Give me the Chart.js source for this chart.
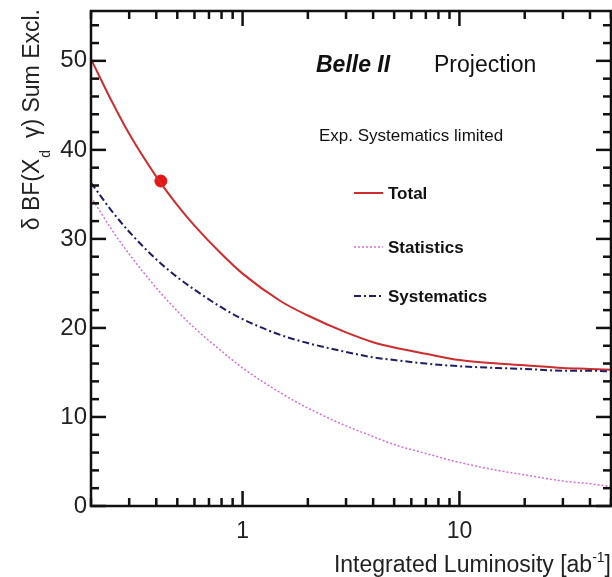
<!DOCTYPE html>
<html>
<head>
<meta charset="utf-8">
<script src="https://cdn.jsdelivr.net/npm/chart.js@4/dist/chart.umd.min.js"></script>
<style>
html, body { margin: 0; padding: 0; background: #fff; }
#wrap { width: 612px; height: 577px; }
</style>
</head>
<body>
<div id="wrap"><canvas id="myChart" width="612" height="577"></canvas></div>
<script>
// integrated luminosity [ab^-1] and the three error curves
var lumi        = [0.2, 0.25, 0.3, 0.4, 0.5, 0.6, 0.8, 1, 1.5, 2, 3, 4, 5, 7, 10, 15, 20, 30, 40, 50];
var total       = [50.2, 45.4, 41.8, 37.0, 33.8, 31.5, 28.3, 26.1, 23.0, 21.4, 19.5, 18.4, 17.8, 17.1, 16.4, 16.0, 15.8, 15.5, 15.4, 15.3];
var statistics  = [34.7, 31.0, 28.3, 24.5, 21.9, 20.0, 17.4, 15.5, 12.7, 11.0, 9.0, 7.8, 6.9, 5.9, 4.9, 4.0, 3.5, 2.8, 2.5, 2.2];
var systematics = [36.3, 33.1, 30.8, 27.7, 25.7, 24.3, 22.3, 21.0, 19.2, 18.3, 17.3, 16.7, 16.4, 16.0, 15.7, 15.5, 15.4, 15.2, 15.2, 15.1];

// marked point on the total curve
var markLumi  = [0.42];
var markTotal = [36.5];

// axis ticks
var xTicks  = [0.2, 0.3, 0.4, 0.5, 0.6, 0.7, 0.8, 0.9, 1, 2, 3, 4, 5, 6, 7, 8, 9, 10, 20, 30, 40, 50];
var xLabels = [1, 10];
var yTicks  = [0, 10, 20, 30, 40, 50];

var FONT = '"Liberation Sans", Arial, sans-serif';

function pairs(xs, ys) {
    var out = [];
    for (var i = 0; i < xs.length; i++) {
        out.push({x: xs[i], y: ys[i]});
    }
    return out;
}

var styles = {
    total: {color: 'rgb(205,45,45)', width: 2, dash: []},
    stat:  {color: 'rgb(214,110,214)', width: 1.5, dash: [2, 2]},
    syst:  {color: 'rgb(30,30,100)', width: 2, dash: [7, 3, 2, 3]}
};

function line(ctx, x1, y1, x2, y2) {
    ctx.beginPath();
    ctx.moveTo(x1, y1);
    ctx.lineTo(x2, y2);
    ctx.stroke();
}

// chart.js reserves room for half a label at the axis ends; not wanted here
function noScalePadding(s) {
    s.paddingTop = 0;
    s.paddingBottom = 0;
    s.paddingLeft = 0;
    s.paddingRight = 0;
}

var framePlugin = {
    id: 'frame',
    afterDraw: function(chart) {
        var ctx = chart.ctx, a = chart.chartArea;
        var xs = chart.scales.x, ys = chart.scales.y;
        ctx.save();
        ctx.strokeStyle = '#111';
        ctx.lineWidth = 2.5;
        ctx.setLineDash([]);
        ctx.strokeRect(a.left, a.top, a.right - a.left, a.bottom - a.top);

        // inward ticks, ROOT style
        xTicks.forEach(function(v) {
            var px = xs.getPixelForValue(v);
            var len = xLabels.indexOf(v) >= 0 ? 15 : 8;
            line(ctx, px, a.bottom, px, a.bottom - len);
            line(ctx, px, a.top, px, a.top + len);
        });
        for (var v = 0; v <= 55; v += 2) {
            var py = ys.getPixelForValue(v);
            var len = (v % 10 === 0) ? 15 : 8;
            line(ctx, a.left, py, a.left + len, py);
            line(ctx, a.right, py, a.right - len, py);
        }

        // y title with subscript
        ctx.fillStyle = '#222';
        ctx.textBaseline = 'alphabetic';
        ctx.textAlign = 'left';
        var p1 = '\u03B4 BF(X', p2 = 'd', p3 = '  \u03B3) Sum Excl.';
        ctx.font = '23px ' + FONT;
        var w1 = ctx.measureText(p1).width, w3 = ctx.measureText(p3).width;
        ctx.font = '14px ' + FONT;
        var w2 = ctx.measureText(p2).width;
        var wt = w1 + w2 + w3;
        ctx.save();
        ctx.translate(39, 9 + wt);
        ctx.rotate(-Math.PI / 2);
        ctx.font = '23px ' + FONT;
        ctx.fillText(p1, 0, 0);
        ctx.font = '14px ' + FONT;
        ctx.fillText(p2, w1 + 1, 11);
        ctx.font = '23px ' + FONT;
        ctx.fillText(p3, w1 + w2, 0);
        ctx.restore();

        // x title with superscript
        var q1 = 'Integrated Luminosity [ab', q2 = '-1', q3 = ']';
        ctx.font = '23px ' + FONT;
        var v1 = ctx.measureText(q1).width, v3 = ctx.measureText(q3).width;
        ctx.font = '14px ' + FONT;
        var v2 = ctx.measureText(q2).width;
        var x0 = 611 - (v1 + v2 + v3);
        ctx.font = '23px ' + FONT;
        ctx.fillText(q1, x0, 572);
        ctx.font = '14px ' + FONT;
        ctx.fillText(q2, x0 + v1, 562);
        ctx.font = '23px ' + FONT;
        ctx.fillText(q3, x0 + v1 + v2, 572);

        // header
        ctx.fillStyle = '#111';
        ctx.font = 'italic bold 23px ' + FONT;
        ctx.fillText('Belle II', 316, 72);
        ctx.font = '23px ' + FONT;
        ctx.fillText('Projection', 434, 72);
        ctx.font = '17px ' + FONT;
        ctx.fillText('Exp. Systematics limited', 319, 141);

        // legend
        var items = [['Total', styles.total, 193], ['Statistics', styles.stat, 247], ['Systematics', styles.syst, 296]];
        items.forEach(function(it) {
            ctx.strokeStyle = it[1].color;
            ctx.lineWidth = it[1].width;
            ctx.setLineDash(it[1].dash);
            line(ctx, 354, it[2], 383, it[2]);
            ctx.setLineDash([]);
            ctx.fillStyle = '#111';
            ctx.font = 'bold 17px ' + FONT;
            ctx.fillText(it[0], 388, it[2] + 6);
        });
        ctx.restore();
    }
};

var ctx = document.getElementById('myChart').getContext('2d');
var chart = new Chart(ctx, {
    type: 'line',
    data: {
        datasets: [{
            label: 'Statistics',
            data: pairs(lumi, statistics),
            borderColor: styles.stat.color,
            borderWidth: styles.stat.width,
            borderDash: styles.stat.dash,
            pointRadius: 0,
            cubicInterpolationMode: 'monotone',
            fill: false
        }, {
            label: 'Systematics',
            data: pairs(lumi, systematics),
            borderColor: styles.syst.color,
            borderWidth: styles.syst.width,
            borderDash: styles.syst.dash,
            pointRadius: 0,
            cubicInterpolationMode: 'monotone',
            fill: false
        }, {
            label: 'Total',
            data: pairs(lumi, total),
            borderColor: styles.total.color,
            borderWidth: styles.total.width,
            pointRadius: 0,
            cubicInterpolationMode: 'monotone',
            fill: false
        }, {
            label: 'Point',
            type: 'scatter',
            data: pairs(markLumi, markTotal),
            pointRadius: 6,
            pointBackgroundColor: 'rgb(232,20,20)',
            pointBorderColor: 'rgb(232,20,20)',
            showLine: false
        }]
    },
    options: {
        responsive: false,
        animation: false,
        devicePixelRatio: 1,
        layout: {autoPadding: false, padding: {top: 11, right: 1, left: 0, bottom: 0}},
        plugins: {
            legend: {display: false},
            tooltip: {enabled: false}
        },
        scales: {
            x: {
                type: 'logarithmic',
                min: 0.2,
                max: 50,
                grid: {display: false, drawTicks: false},
                border: {display: false},
                afterFit: function(s) { s.height = 71; noScalePadding(s); },
                afterBuildTicks: function(s) {
                    s.ticks = xTicks.map(function(v) { return {value: v}; });
                },
                ticks: {
                    autoSkip: false,
                    maxRotation: 0,
                    padding: 12,
                    color: '#222',
                    font: {family: FONT, size: 23},
                    callback: function(v) {
                        return xLabels.indexOf(v) >= 0 ? String(v) : '';
                    }
                }
            },
            y: {
                type: 'linear',
                min: 0,
                max: 55.6,
                grid: {display: false, drawTicks: false},
                border: {display: false},
                afterFit: function(s) { s.width = 91; noScalePadding(s); },
                afterBuildTicks: function(s) {
                    s.ticks = yTicks.map(function(v) { return {value: v}; });
                },
                ticks: {
                    padding: 4,
                    color: '#222',
                    font: {family: FONT, size: 24}
                }
            }
        }
    },
    plugins: [framePlugin]
});
</script>
</body>
</html>
